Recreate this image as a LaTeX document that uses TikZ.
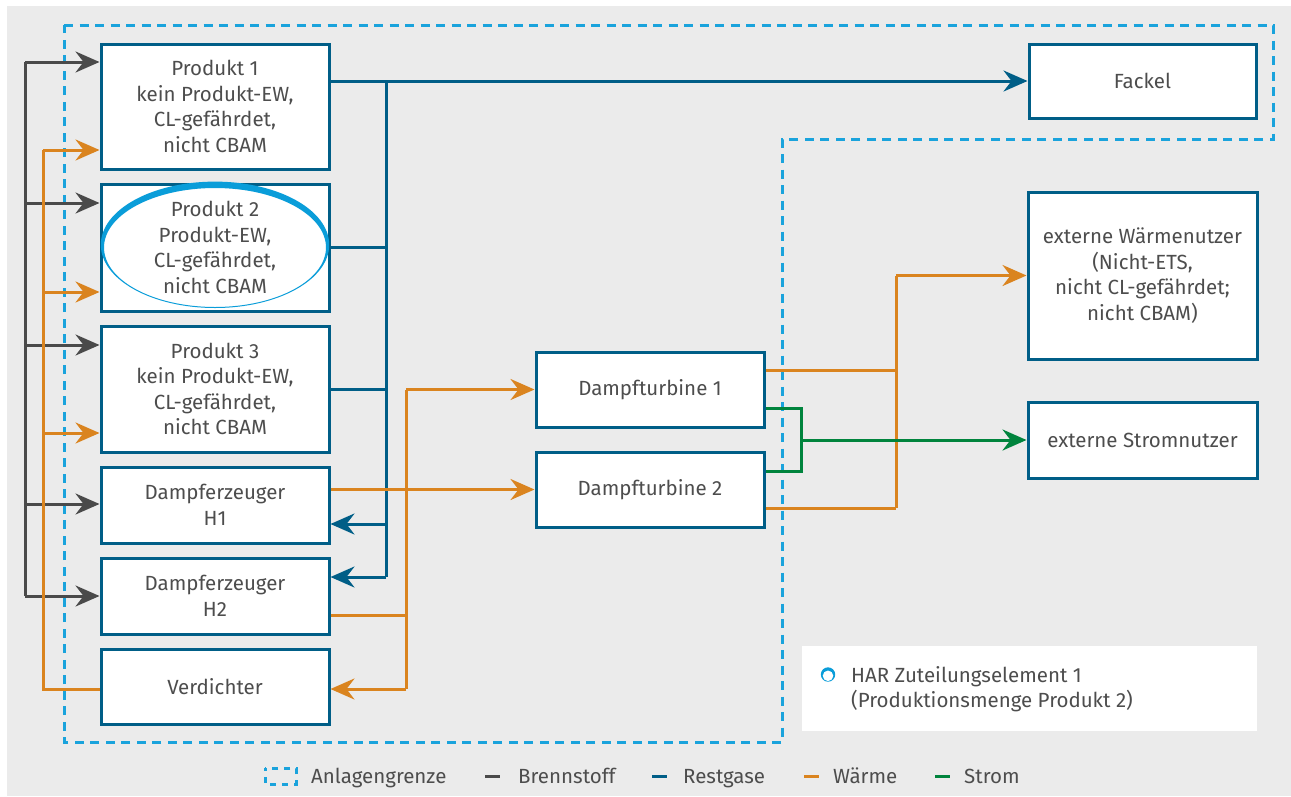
\documentclass[tikz,border=0pt]{standalone}
\usepackage{fontspec}
\setmainfont{Fira Sans}
\usetikzlibrary{arrows.meta,calc}
\definecolor{bg}{HTML}{EBEBEB}
\definecolor{txt}{HTML}{4D4D4D}
\definecolor{bs}{HTML}{4A4A4A}
\definecolor{rg}{HTML}{005E87}
\definecolor{wm}{HTML}{DA841F}
\definecolor{st}{HTML}{00843D}
\definecolor{grenze}{HTML}{1AA3DC}
\definecolor{har}{HTML}{0A9DD9}
\newcommand{\diagfont}{\fontsize{20.5pt}{25.5pt}\selectfont}
\begin{document}
\begin{tikzpicture}[x=1pt,y=-1pt,
 box/.style={draw=rg, line width=3pt, fill=white, align=center, inner sep=0pt, text=txt, font=\diagfont},
 wide/.style={minimum width=228pt},
 conn/.style={line width=3pt},
 fuel/.style={conn, draw=bs},
 rest/.style={conn, draw=rg},
 heat/.style={conn, draw=wm},
 power/.style={conn, draw=st},
 tip/.style={-{Stealth[length=24pt,width=21pt,inset=8pt]}},
 bound/.style={draw=grenze, line width=3pt, dash pattern=on 9pt off 6.5pt},
 lbl/.style={text=txt, font=\diagfont, inner sep=0pt, anchor=base west},
]
\useasboundingbox (0,0) rectangle (1291,796);
\fill[white] (0,0) rectangle (1291,796);
\fill[bg] (7,6) rectangle (1291,796);

% Anlagengrenze
\draw[bound] (64,25) -- (1273,25) -- (1273,139) -- (782,139) -- (782,742) -- (64,742) -- cycle;

% coordinates
\coordinate (f1) at (25,62);
\coordinate (f2) at (25,203);
\coordinate (f3) at (25,345);
\coordinate (f4) at (25,504);
\coordinate (f5) at (25,596);
\coordinate (w0) at (43,689);
\coordinate (w1) at (43,150);
\coordinate (w2) at (43,292);
\coordinate (w3) at (43,433);
\coordinate (r1) at (386,81);
\coordinate (r2) at (386,247);
\coordinate (r3) at (386,389);
\coordinate (r4) at (386,524);
\coordinate (r5) at (386,577);
\coordinate (o1) at (406,389.5);
\coordinate (o2) at (406,615);
\coordinate (o3) at (406,689);
\coordinate (q1) at (896,275.5);
\coordinate (q2) at (896,370);
\coordinate (q3) at (896,508);
\coordinate (g1) at (801,408);
\coordinate (g2) at (801,471);
\coordinate (g3) at (801,440);

% boxes
\node[box, wide, minimum height=125pt] (p1) at (215,106.5) {Produkt 1\\kein Produkt-EW,\\CL-gefährdet,\\nicht CBAM};
\node[box, wide, minimum height=127pt] (p2) at (215,247.5) {Produkt 2\\Produkt-EW,\\CL-gefährdet,\\nicht CBAM};
\node[box, wide, minimum height=126pt] (p3) at (215,389) {Produkt 3\\kein Produkt-EW,\\CL-gefährdet,\\nicht CBAM};
\node[box, wide, minimum height=76pt] (h1) at (215,505) {Dampferzeuger\\H1};
\node[box, wide, minimum height=76pt] (h2) at (215,596) {Dampferzeuger\\H2};
\node[box, wide, minimum height=75pt] (vd) at (215,686.5) {Verdichter};
\node[box, wide, minimum height=75pt] (dt1) at (650,389.5) {Dampfturbine 1};
\node[box, wide, minimum height=75pt] (dt2) at (650,489.5) {Dampfturbine 2};
\node[box, minimum width=227pt, minimum height=74pt] (fk) at (1142.5,81) {Fackel};
\node[box, minimum width=229pt, minimum height=167pt] (wn) at (1142.5,275.5) {externe Wärmenutzer\\(Nicht-ETS,\\nicht CL-gefährdet;\\nicht CBAM)};
\node[box, minimum width=229pt, minimum height=76pt] (sn) at (1142.5,440) {externe Stromnutzer};

% HAR ellipse
\fill[har, even odd rule] ($(p2.center)+(0,-2.7)$) ellipse [x radius=114.2pt, y radius=63.2pt]
  ($(p2.center)+(0,0)$) ellipse [x radius=111pt, y radius=59.5pt];

% Brennstoff
\draw[fuel] (f1) -- (f5);
\foreach \i/\n in {1/p1,2/p2,3/p3,4/h1,5/h2}
  \draw[fuel,tip] (f\i) -- (f\i -| \n.west);

% Waerme links
\draw[heat] (vd.west |- w0) -- (w0) -- (w1);
\foreach \i/\n in {1/p1,2/p2,3/p3}
  \draw[heat,tip] (w\i) -- (w\i -| \n.west);

% Restgase
\draw[rest,tip] (p1.east |- fk.west) -- (fk.west);
\draw[rest] (r1) -- (r5);
\draw[rest] (p2.east |- r2) -- (r2);
\draw[rest] (p3.east |- r3) -- (r3);
\draw[rest,tip] (r4) -- (r4 -| h1.east);
\draw[rest,tip] (r5) -- (r5 -| h2.east);

% Waerme Mitte
\draw[heat] (h2.east |- o2) -- (o2);
\draw[heat] (o1) -- (o3);
\draw[heat,tip] (o1) -- (dt1.west);
\draw[heat,tip] (o3) -- (o3 -| vd.east);
\draw[heat,tip] (h1.east |- dt2.west) -- (dt2.west);

% Waerme rechts
\draw[heat] (dt1.east |- q2) -- (q2);
\draw[heat] (dt2.east |- q3) -- (q3);
\draw[heat] (q3) -- (q1);
\draw[heat,tip] (q1) -- (wn.west);

% Strom
\draw[power] (dt1.east |- g1) -- (g1) -- (g2) -- (dt2.east |- g2);
\draw[power,tip] (g3) -- (sn.west);

% HAR legend box
\fill[white] (802,646) rectangle (1257,731);
\fill[har, even odd rule] (828,674.5) circle [radius=7.2pt] (828,675.8) circle [radius=5.4pt];
\node[lbl, align=left, anchor=west] (harl) at (851,689) {HAR Zuteilungselement 1\\(Produktionsmenge Produkt 2)};

% bottom legend
\draw[bound, dash pattern=on 6pt off 6pt, dash phase=3pt] (265,768) rectangle (296,784);
\node[lbl] (la) at (311,783) {Anlagengrenze};
\draw[fuel] (485,776) -- (500,776);
\node[lbl] (lb) at (518,783) {Brennstoff};
\draw[rest] (652,776) -- (667,776);
\node[lbl] (lr) at (683,783) {Restgase};
\draw[heat] (804,776) -- (819,776);
\node[lbl] (lw) at (833,783) {Wärme};
\draw[power] (935,776) -- (950,776);
\node[lbl] (ls) at (964,783) {Strom};
\end{tikzpicture}
\end{document}
